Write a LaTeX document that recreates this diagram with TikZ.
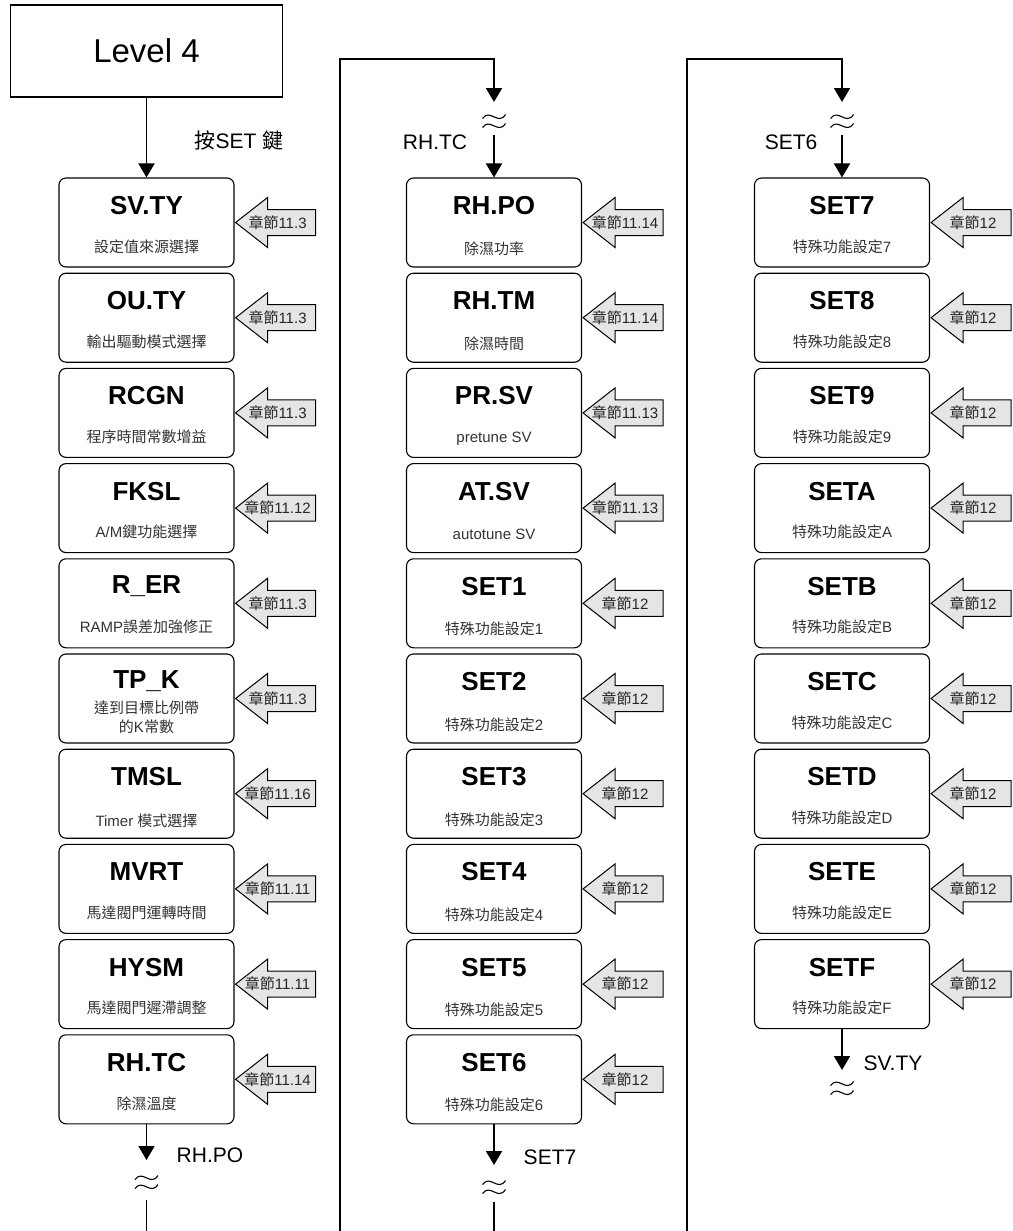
\documentclass[tikz,border=0pt]{standalone}
\usepackage{fontspec}
\setmainfont{Liberation Sans}
\newfontfamily\cjk{Noto Sans CJK TC}
\usetikzlibrary{arrows.meta,calc,positioning}

\newcommand\zh[1]{{\cjk #1}}
% chapter pointer on the right of a step box
\newcommand\chapmark[2]{%
  \draw[chapshape] ($(#1.east)+(1,0)$) -- ++(32,-25) -- ++(0,12) -- ++(48,0) -- ++(0,26) -- ++(-48,0) -- ++(0,12) -- cycle;
  \node[chaptext] (#1-m) at ($(#1.east)+(43,0)$) {\zh{章節}#2};}

\tikzset{
  stepbox/.style={draw,rounded corners=7pt,line width=1.1pt,minimum width=175pt,minimum height=89pt,inner sep=0pt},
  steptitle/.style={font=\fontsize{26}{30}\selectfont\bfseries,inner sep=0pt},
  stepsub/.style={font=\fontsize{15}{19}\selectfont,text=black!80,align=center,inner sep=0pt},
  chapshape/.style={draw,line width=1pt,fill=black!10},
  chaptext/.style={font=\fontsize{15}{18}\selectfont,text=black!85,inner sep=0pt},
  lbl/.style={font=\fontsize{21}{25}\selectfont,inner sep=0pt},
  flow/.style={line width=1.8pt,-{Triangle[length=14pt,width=16pt]}},
  link/.style={line width=1.8pt},
  wavebrk/.pic={
    \draw[line width=1.1pt] (-11.5,-2.5) .. controls (-4,-13) and (4,5) .. (11.5,-6.5);
    \draw[line width=1.1pt] (-11.5,6.5) .. controls (-4,-4) and (4,14) .. (11.5,2.5);
  }
}

\begin{document}
\begin{tikzpicture}[x=1pt,y=-1pt]
\useasboundingbox (0,0) rectangle (1012,1231);

\node[draw,line width=1.1pt,minimum width=272pt,minimum height=92pt,font=\fontsize{33}{38}\selectfont] (lv4) at (146.5,51) {Level 4};

% column 1
\foreach \ttl/\dsc/\chp/\off [count=\i from 0] in {
  SV.TY/\zh{設定值來源選擇}/11.3/69,
  OU.TY/\zh{輸出驅動模式選擇}/11.3/69,
  RCGN/\zh{程序時間常數增益}/11.3/69,
  FKSL/{A/M\zh{鍵功能選擇}}/11.12/69,
  R\_ER/RAMP\zh{誤差加強修正}/11.3/69,
  TP\_K/{\zh{達到目標比例帶}\\\zh{的}K\zh{常數}}/11.3/63.5,
  TMSL/Timer \zh{模式選擇}/11.16/72,
  MVRT/\zh{馬達閥門運轉時間}/11.11/69,
  HYSM/\zh{馬達閥門遲滯調整}/11.11/69,
  RH.TC/\zh{除濕溫度}/11.14/69}{
  \node[stepbox] (a\i) at (146.5,{222.5+95.2*\i}) {};
  \node[steptitle] (a\i-t) at ($(a\i.north)+(0,28)$) {\ttl};
  \node[stepsub] (a\i-s) at ($(a\i.north)+(0,\off)$) {\dsc};
  \chapmark{a\i}{\chp}
}

% column 2
\foreach \ttl/\dsc/\chp [count=\i from 0] in {
  RH.PO/\zh{除濕功率}/11.14,
  RH.TM/\zh{除濕時間}/11.14,
  PR.SV/pretune SV/11.13,
  AT.SV/autotune SV/11.13,
  SET1/\zh{特殊功能設定}1/12,
  SET2/\zh{特殊功能設定}2/12,
  SET3/\zh{特殊功能設定}3/12,
  SET4/\zh{特殊功能設定}4/12,
  SET5/\zh{特殊功能設定}5/12,
  SET6/\zh{特殊功能設定}6/12}{
  \node[stepbox] (b\i) at (494,{222.5+95.2*\i}) {};
  \node[steptitle] (b\i-t) at ($(b\i.north)+(0,28)$) {\ttl};
  \node[stepsub] (b\i-s) at ($(b\i.north)+(0,71)$) {\dsc};
  \chapmark{b\i}{\chp}
}

% column 3
\foreach \k [count=\i from 0] in {7,8,9,A,B,C,D,E,F}{
  \node[stepbox] (c\i) at (842,{222.5+95.2*\i}) {};
  \node[steptitle] (c\i-t) at ($(c\i.north)+(0,28)$) {SET\k};
  \node[stepsub] (c\i-s) at ($(c\i.north)+(0,69)$) {\zh{特殊功能設定}\k};
  \chapmark{c\i}{12}
}

% entry
\draw[flow] (lv4) -- (a0);
\node[lbl] (setkey) at (239,140) {\zh{按}SET \zh{鍵}};

% break points
\coordinate (e1) at (146.5,1160);
\coordinate (r1) at (146.5,1200);
\coordinate (f1) at (146.5,1231);
\coordinate (k1) at (340,1231);
\coordinate (k2) at (340,59);
\coordinate (h2) at (494,59);
\coordinate (t2) at (494,102);
\coordinate (s2) at (494,135);
\coordinate (e2) at (494,1165);
\coordinate (r2) at (494,1202);
\coordinate (f2) at (494,1231);
\coordinate (k3) at (687,1231);
\coordinate (k4) at (687,59);
\coordinate (h3) at (842,59);
\coordinate (t3) at (842,102);
\coordinate (s3) at (842,135);
\coordinate (e3) at (842,1070);

\draw[flow] (a9) -- (e1);
\pic at (146.5,1182) {wavebrk};
\draw[link] (r1) -- (f1);
\node[lbl] (nx1) at (210,1155) {RH.PO};

\draw[flow] (k1) -- (k2) -- (h2) -- (t2);
\pic at (494,121) {wavebrk};
\draw[flow] (s2) -- (b0);
\node[lbl] (pv2) at (435,142) {RH.TC};

\draw[flow] (b9) -- (e2);
\pic at (494,1187) {wavebrk};
\draw[link] (r2) -- (f2);
\node[lbl] (nx2) at (550,1157) {SET7};

\draw[flow] (k3) -- (k4) -- (h3) -- (t3);
\pic at (842,121) {wavebrk};
\draw[flow] (s3) -- (c0);
\node[lbl] (pv3) at (791,142) {SET6};

\draw[flow] (c8) -- (e3);
\pic at (842,1088) {wavebrk};
\node[lbl] (nx3) at (893,1063) {SV.TY};
\end{tikzpicture}
\end{document}
